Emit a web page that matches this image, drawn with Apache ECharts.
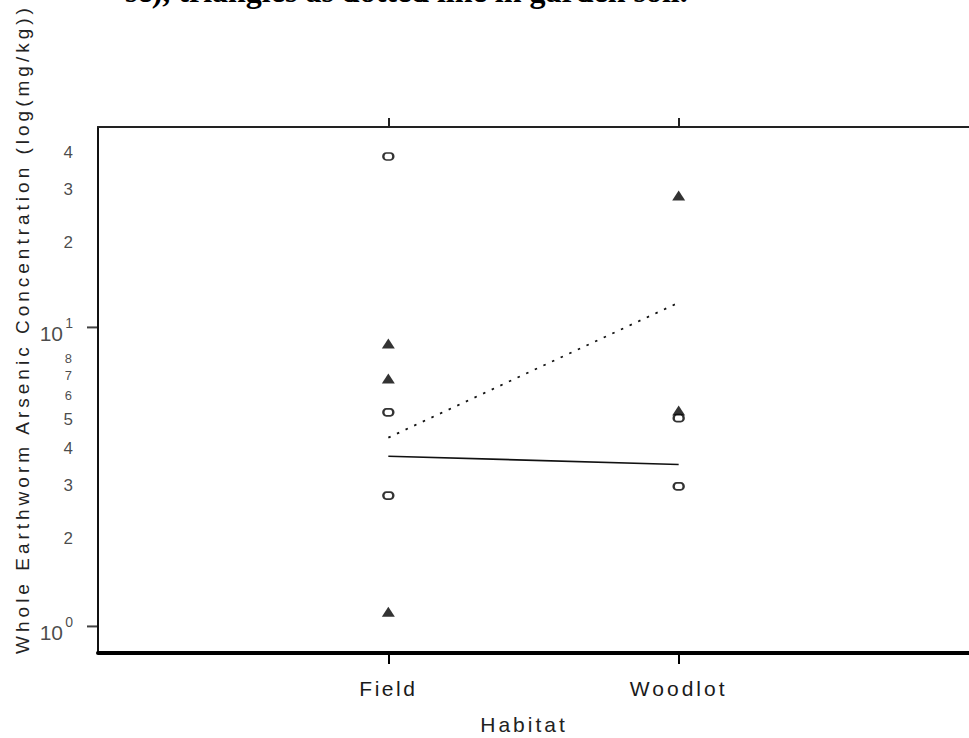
<!DOCTYPE html>
<html>
<head>
<meta charset="utf-8">
<script src="https://cdn.jsdelivr.net/npm/echarts@6/dist/echarts.min.js"></script>
<style>
  html, body { margin: 0; padding: 0; background: #fff; }
  #chart { width: 969px; height: 738px; }
</style>
</head>
<body>
<div id="chart"></div>
<script>
// Habitat categories along the x axis
const habitats = ['Field', 'Woodlot'];

// Open ovals: habitat and arsenic concentration (mg/kg)
const ovalHabitat = ['Field', 'Field', 'Field', 'Woodlot', 'Woodlot'];
const ovalValues = [37.3, 5.2, 2.74, 4.97, 2.94];

// Filled triangles: habitat and arsenic concentration (mg/kg)
const triHabitat = ['Field', 'Field', 'Field', 'Woodlot', 'Woodlot'];
const triValues = [8.84, 6.75, 1.12, 27.6, 5.27];

// Fitted lines, one value per habitat (Field, Woodlot)
const solidFit = [3.71, 3.48];
const dottedFit = [4.28, 12.1];

// Log-axis labels: decades as base^exponent, minor ticks as leading digits
const yDecadeValues = [1, 10];
const yDecadeLabels = ['10^0', '10^1'];
const yMinorValues = [2, 3, 4, 5, 6, 7, 8, 20, 30, 40];
const yMinorLabels = ['2', '3', '4', '5', '6', '7', '8', '2', '3', '4'];

const yAxisTitle = 'Whole Earthworm Arsenic Concentration (log(mg/kg))';
const xAxisTitle = 'Habitat';
const captionText = 'se), triangles as dotted line in garden soil.';

const Y_MIN = 0.815;
const Y_MAX = 46.8;

const xOf = h => habitats.indexOf(h) + 1;
const TEXT = '#1a1a1a';

const chart = echarts.init(document.getElementById('chart'), null, { renderer: 'svg', width: 969, height: 738 });

const option = {
  animation: false,
  backgroundColor: '#ffffff',
  textStyle: { fontFamily: 'Liberation Sans' },
  grid: { left: 98, top: 127, width: 876, height: 526, containLabel: false },
  xAxis: [
    {
      type: 'value', min: 0, max: 3, position: 'bottom',
      axisLine: { show: true, onZero: false, lineStyle: { color: '#000', width: 4 } },
      axisTick: { show: true, customValues: [1, 2], length: 11, lineStyle: { color: '#000', width: 2 } },
      axisLabel: {
        show: true, customValues: [1, 2], margin: 25,
        formatter: v => habitats[Math.round(v) - 1] || '',
        fontSize: 21, color: TEXT, fontFamily: 'Liberation Sans'
      },
      splitLine: { show: false }
    },
    {
      type: 'value', min: 0, max: 3, position: 'top',
      axisLine: { show: true, onZero: false, lineStyle: { color: '#222', width: 2 } },
      axisTick: { show: true, customValues: [1, 2], length: 9, lineStyle: { color: '#222', width: 2 } },
      axisLabel: { show: false },
      splitLine: { show: false }
    }
  ],
  yAxis: {
    type: 'log', logBase: 10, min: Y_MIN, max: Y_MAX,
    axisLine: { show: true, onZero: false, lineStyle: { color: '#111', width: 2 } },
    axisTick: { show: false },
    axisLabel: { show: false },
    splitLine: { show: false }
  },
  series: [
    {
      // major tick marks at each decade, drawn just outside the left axis
      name: 'yTickMarks', type: 'scatter', silent: true,
      symbol: 'rect', symbolSize: [11, 2], symbolOffset: [-5.5, 0],
      itemStyle: { color: '#111' },
      data: yDecadeValues.map(v => [0, v]),
      z: 3
    },
    {
      // decade base "10"
      name: 'yDecadeBase', type: 'scatter', silent: true, symbolSize: 0,
      data: yDecadeValues.map(v => [0, v]),
      label: {
        show: true, position: 'left', distance: 35, offset: [0, 6],
        formatter: p => yDecadeLabels[p.dataIndex].split('^')[0],
        fontSize: 21, color: TEXT, fontFamily: 'Liberation Sans'
      },
      z: 3
    },
    {
      // decade exponent, raised
      name: 'yDecadeExp', type: 'scatter', silent: true, symbolSize: 0,
      data: yDecadeValues.map(v => [0, v]),
      label: {
        show: true, position: 'left', distance: 25, offset: [0, -4],
        formatter: p => yDecadeLabels[p.dataIndex].split('^')[1],
        fontSize: 14, color: TEXT, fontFamily: 'Liberation Sans'
      },
      z: 3
    },
    {
      // minor labels between decades
      name: 'yMinorLabels', type: 'scatter', silent: true, symbolSize: 0,
      data: yMinorValues.map(v => ({
        value: [0, v],
        label: {
          fontSize: (v >= 6 && v < 10) ? 13 : 17,
          distance: (v >= 6 && v < 10) ? 26 : 25,
          offset: [0, v >= 10 ? 5 : 2]
        }
      })),
      label: {
        show: true, position: 'left', color: TEXT, fontFamily: 'Liberation Sans',
        formatter: p => yMinorLabels[p.dataIndex]
      },
      z: 3
    },
    {
      name: 'Solid fit', type: 'line', showSymbol: false, silent: true,
      data: habitats.map((h, i) => [xOf(h), solidFit[i]]),
      lineStyle: { color: '#111', width: 1.6, type: 'solid' },
      z: 4
    },
    {
      name: 'Dotted fit', type: 'line', showSymbol: false, silent: true,
      data: habitats.map((h, i) => [xOf(h), dottedFit[i]]),
      lineStyle: { color: '#111', width: 1.8, type: [2.5, 7] },
      z: 4
    },
    {
      name: 'Triangles', type: 'scatter', silent: true,
      symbol: 'triangle', symbolSize: [13, 10],
      itemStyle: { color: '#000' },
      data: triHabitat.map((h, i) => [xOf(h), triValues[i]]),
      z: 5
    },
    {
      name: 'Ovals', type: 'scatter', silent: true,
      symbol: 'path://M3,0 L7,0 A3,3 0 0 1 7,6 L3,6 A3,3 0 0 1 3,0 Z',
      symbolSize: [10, 7], symbolKeepAspect: false,
      itemStyle: { color: '#fff', borderColor: '#000', borderWidth: 2 },
      data: ovalHabitat.map((h, i) => [xOf(h), ovalValues[i]]),
      z: 6
    }
  ],
  graphic: [
    {
      type: 'text', x: 22, y: 329, rotation: Math.PI / 2,
      style: { text: yAxisTitle, fontSize: 19, fontFamily: 'Liberation Sans', fill: '#222', align: 'center', verticalAlign: 'middle' }
    },
    {
      type: 'text', x: 524, y: 724,
      style: { text: xAxisTitle, fontSize: 21, fontFamily: 'Liberation Sans', fill: '#222', align: 'center', verticalAlign: 'middle' }
    },
    {
      type: 'text', x: 125, y: 7,
      style: { text: captionText, fontSize: 32, fontWeight: 'bold', fontFamily: 'Liberation Serif', fill: '#000', align: 'left', verticalAlign: 'bottom' }
    }
  ]
};

chart.setOption(option);

// Widen the letter spacing of the axis texts
const letterSpacing = { 'Field': 2.5, 'Woodlot': 3, 'Habitat': 3 };
letterSpacing[yAxisTitle] = 4;
document.querySelectorAll('#chart svg text').forEach(t => {
  const s = letterSpacing[t.textContent];
  if (s) t.setAttribute('letter-spacing', s);
});
</script>
</body>
</html>
